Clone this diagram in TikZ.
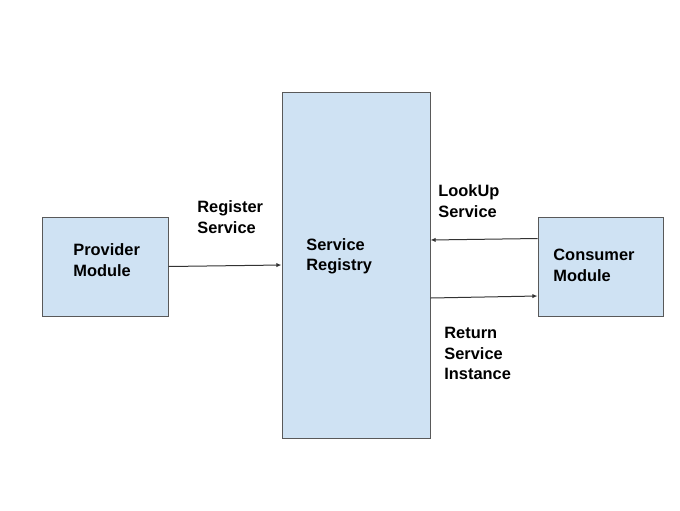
\documentclass[tikz,border=0pt]{standalone}
\usepackage{fontspec}
\setmainfont{Liberation Sans}
\usepackage{tikz}
\usetikzlibrary{arrows.meta, positioning, calc}
\definecolor{boxfill}{HTML}{CFE2F3}
\definecolor{boxline}{HTML}{595959}
\definecolor{linkgray}{HTML}{333333}

\begin{document}
\begin{tikzpicture}[x=0.5pt, y=-0.5pt,
  modbox/.style={rectangle, draw=boxline, line width=0.5pt, fill=boxfill, inner sep=0pt},
  lbl/.style={anchor=west, align=left, inner sep=0pt, font=\fontsize{8.2}{10.2}\selectfont\bfseries},
  arrow/.style={-{Latex[length=2.6pt,width=2.2pt]}, line width=0.5pt, draw=linkgray}
]
  \useasboundingbox (0,0) rectangle (680,510);

  \node[modbox, minimum width=63pt, minimum height=49.5pt] (prov) at (105,266.5) {};
  \node[modbox, minimum width=74pt, minimum height=173pt] (reg) at (356,265) {};
  \node[modbox, minimum width=62.5pt, minimum height=49.5pt] (cons) at (600.5,266.5) {};

  \node[lbl] (provtxt) at (73,260) {Provider\\Module};
  \node[lbl] (regtxt) at (306,256.5) {Service\\Registry};
  \node[lbl] (constxt) at (553,265.5) {Consumer\\Module};

  \node[lbl] (register) at (197,217) {Register\\Service};
  \node[lbl] (lookup) at (438,201) {LookUp\\Service};
  \node[lbl] (return) at (444,353.5) {Return\\Service\\Instance};

  \draw[arrow] (prov.east) -- (reg.west);
  \draw[arrow] ([yshift=14pt]cons.west) -- ([yshift=12.5pt]reg.east);
  \draw[arrow] ([yshift=-16.5pt]reg.east) -- ([yshift=-14.75pt]cons.west);
\end{tikzpicture}
\end{document}
